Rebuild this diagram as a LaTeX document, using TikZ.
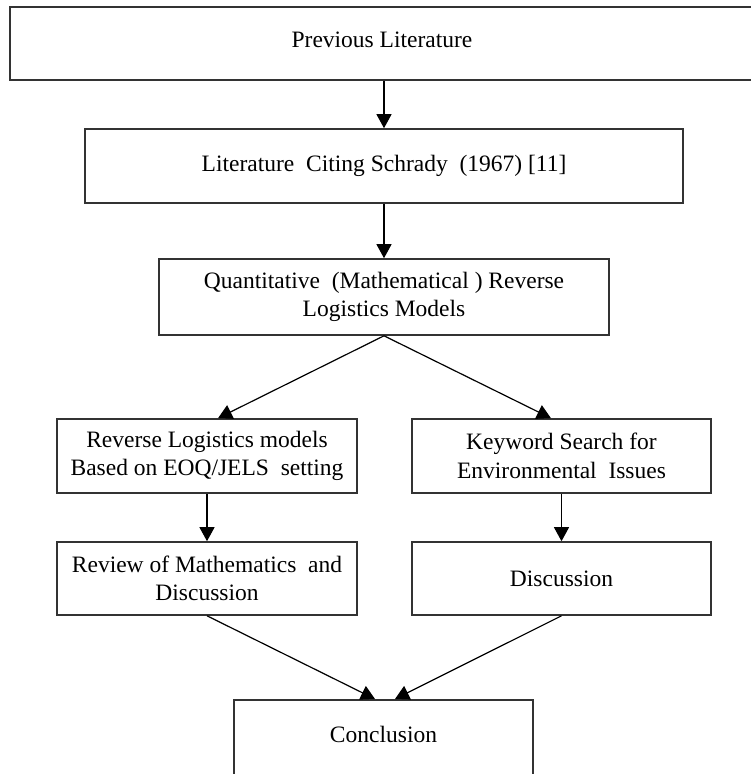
\documentclass[tikz,border=0pt]{standalone}
\usepackage{fontspec}
\setmainfont{Liberation Serif}
\usetikzlibrary{arrows.meta,calc}
\begin{document}
\begin{tikzpicture}[x=1pt,y=-1pt,
  box/.style={draw=black!80, line width=1.6pt, rectangle, inner sep=0pt, align=center,
    font=\fontsize{23.5}{28.5}\selectfont},
  arr/.style={draw=black, line width=1.2pt, -{Triangle[length=14pt,width=15pt]}}]
\useasboundingbox (0,0) rectangle (751,774);
\clip (0,0) rectangle (751,774);
\node[box, minimum width=744pt, minimum height=73pt, text depth=7pt] (prev) at (382,43.5) {Previous Literature};
\node[box, minimum width=598pt, minimum height=74pt] (cite) at (384,166) {Literature\ \ Citing Schrady\ \ (1967) [11]};
\node[box, minimum width=450pt, minimum height=76pt] (quant) at (384,297) {Quantitative\ \ (Mathematical\ ) Reverse\\Logistics Models};
\node[box, minimum width=300pt, minimum height=74pt] (l1) at (207,456) {Reverse Logistics models\\Based on EOQ/JELS\ \ setting};
\node[box, minimum width=299pt, minimum height=74pt] (r1) at (561.5,456) {Keyword Search for\\Environmental\ \ Issues};
\node[box, minimum width=300pt, minimum height=73pt] (l2) at (207,578.5) {Review of Mathematics\ \ and\\Discussion};
\node[box, minimum width=299pt, minimum height=73pt] (r2) at (561.5,578.5) {Discussion};
\node[box, anchor=north, minimum width=299pt, text height=16pt, text depth=60pt, inner ysep=27pt] (conc) at (383.5,699) {Conclusion};
\draw[arr] (cite.north |- prev.south) -- (cite.north);
\draw[arr] (cite.south) -- (quant.north);
\draw[arr] (quant.south) -- ($(l1.north)+(11,0)$);
\draw[arr] (quant.south) -- ($(r1.north)+(-10.5,0)$);
\draw[arr] (l1.south) -- (l2.north);
\draw[arr] (r1.south) -- (r2.north);
\draw[arr] (l2.south) -- ($(conc.north)+(-8.5,0)$);
\draw[arr] (r2.south) -- ($(conc.north)+(11.5,0)$);
\end{tikzpicture}
\end{document}
